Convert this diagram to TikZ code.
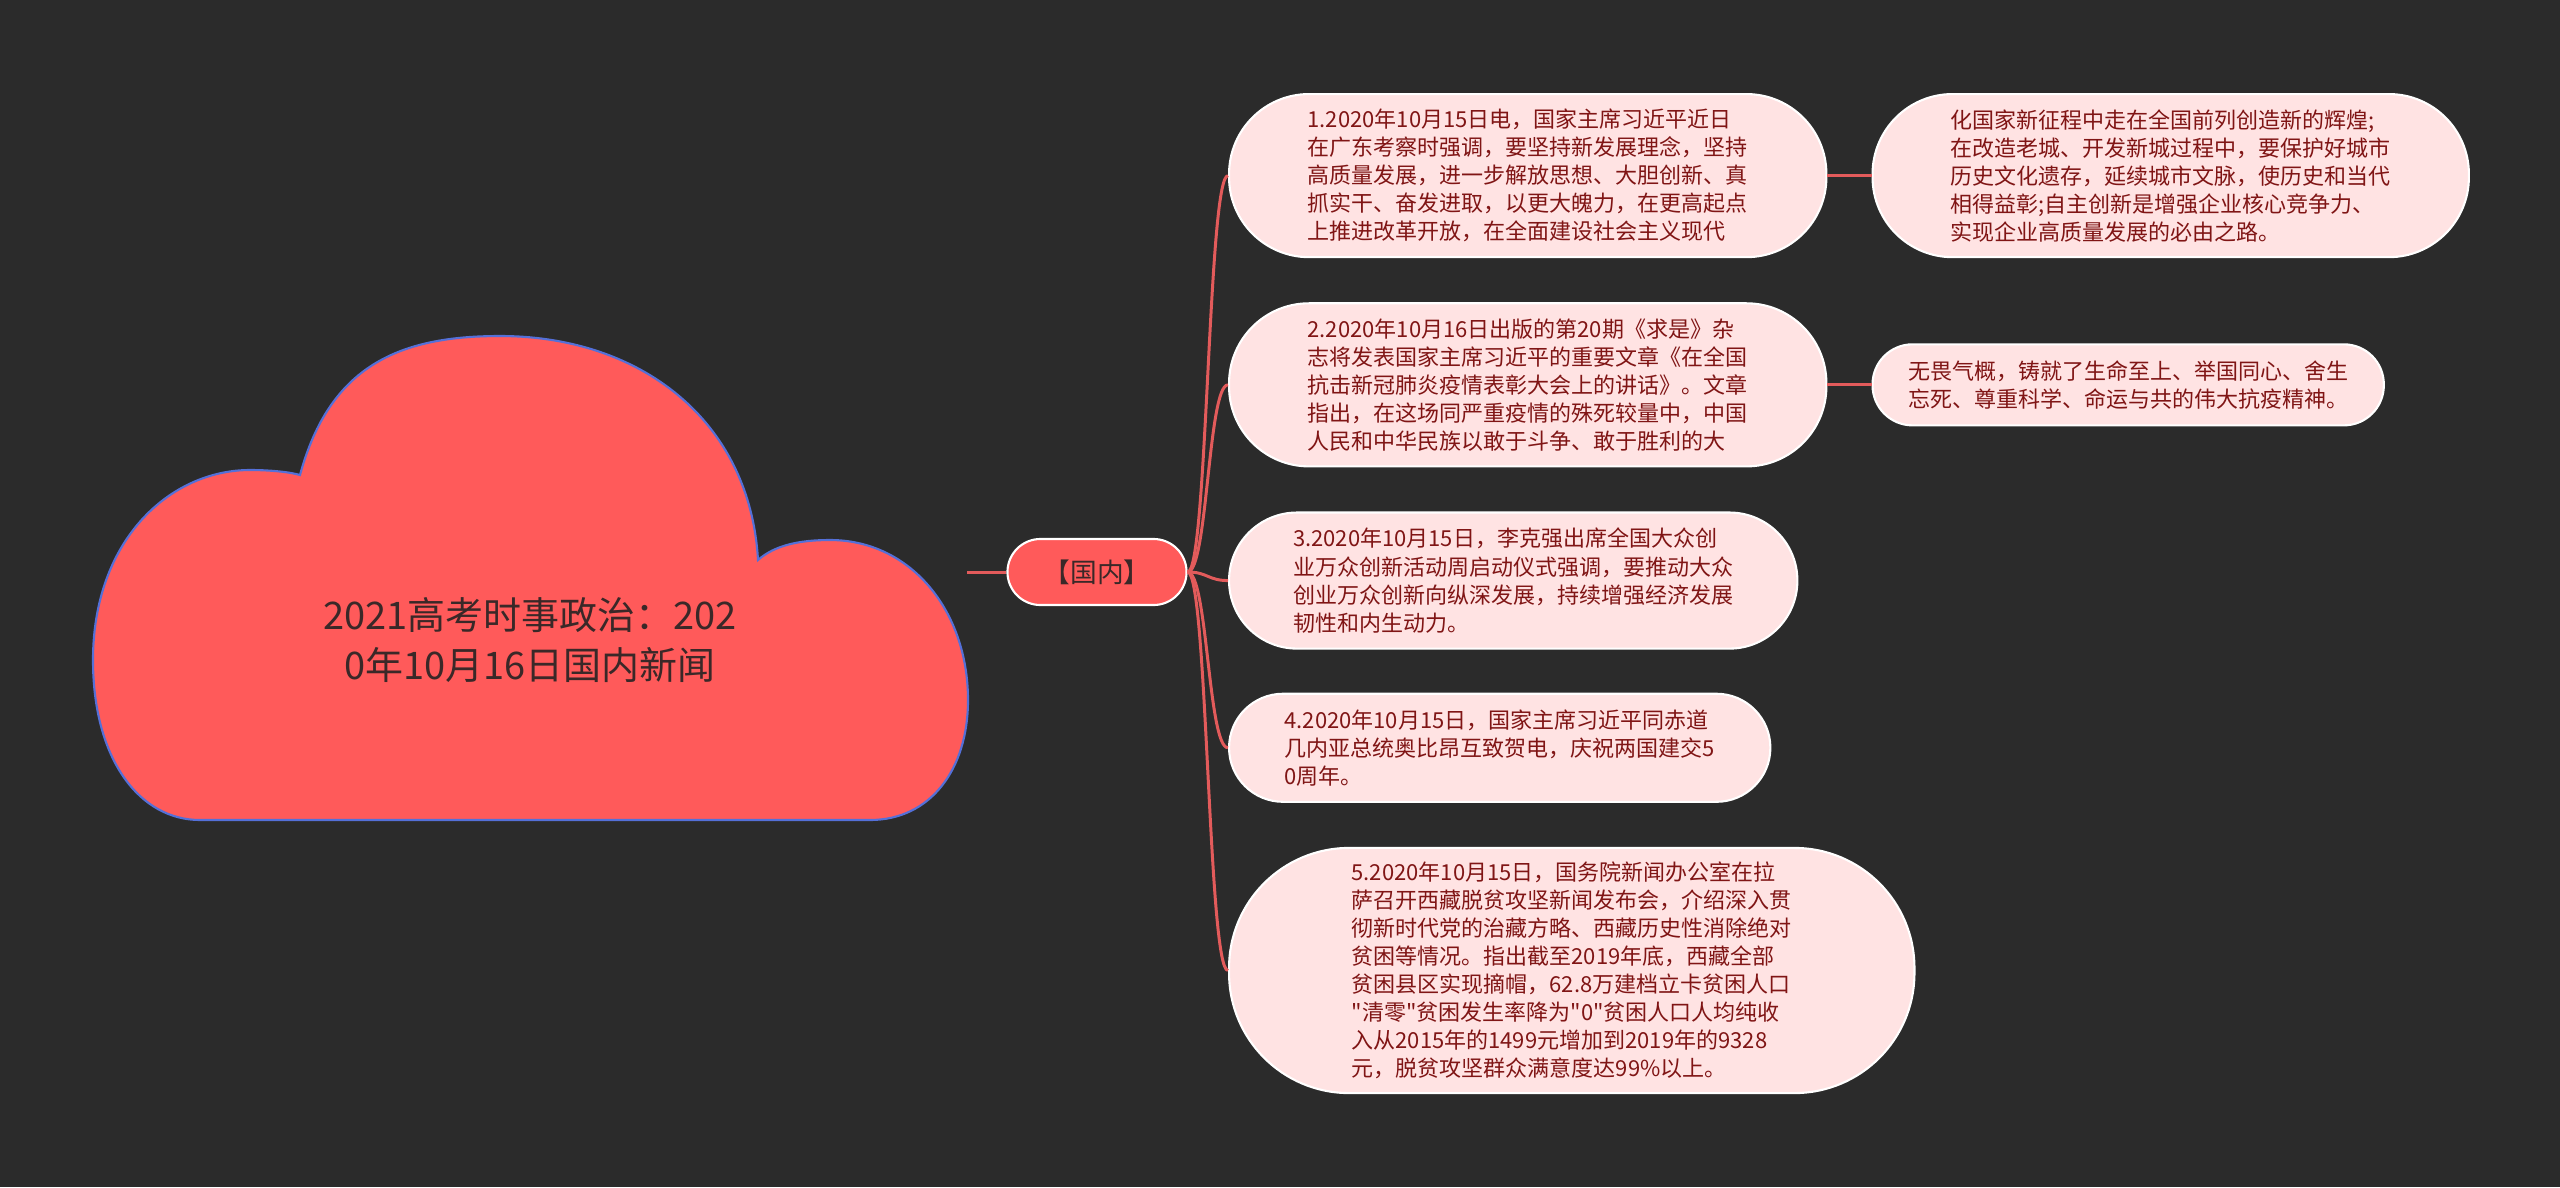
\documentclass[tikz,border=0pt]{standalone}
\usepackage{fontspec}
\usepackage{tikz}
\usetikzlibrary{positioning}
\newfontfamily\cjk{Noto Sans CJK SC}
\definecolor{MapBg}{HTML}{2B2B2B}
\definecolor{MapRed}{HTML}{FF5A5A}
\definecolor{MapBlue}{HTML}{5470D8}
\definecolor{MapLine}{HTML}{E35B5B}
\definecolor{LeafPink}{HTML}{FFE3E3}
\definecolor{LeafText}{HTML}{801515}
\definecolor{TitleText}{HTML}{3A2828}

\begin{document}
\begin{tikzpicture}[x=0.01cm, y=-0.01cm,
    leaf/.style={draw=white, line width=0.6pt, fill=LeafPink, rounded corners=#1,
      text=LeafText, align=left, inner sep=0pt, font=\cjk\fontsize{6.26}{7.97}\selectfont},
    topic/.style={draw=white, line width=0.6pt, fill=MapRed, rounded corners=0.33cm,
      minimum width=1.79cm, minimum height=0.66cm, inner sep=0pt, text=TitleText,
      font=\cjk\fontsize{7.6}{9}\selectfont},
    branch/.style={draw=MapLine, line width=0.85pt},
    cloudshape/.style={draw=MapBlue, line width=0.6pt, fill=MapRed}
  ]
    \fill[MapBg] (0,0) rectangle (2560,1187);
    \useasboundingbox (0,0) rectangle (2560,1187);

    % central cloud
    \draw[cloudshape] (300,475)
      .. controls (330,365) and (400,336) .. (500,336)
      .. controls (640,336) and (750,420) .. (758,560)
      .. controls (775,545) and (800,540) .. (830,540)
      .. controls (910,540) and (968,610) .. (968,700)
      .. controls (968,770) and (930,820) .. (870,820)
      -- (200,820)
      .. controls (140,820) and (93,760) .. (93,660)
      .. controls (93,540) and (170,470) .. (250,470)
      .. controls (270,470) and (290,472) .. (300,475) -- cycle;
    \node[align=center, text=TitleText, font=\cjk\fontsize{10.8}{14.4}\selectfont] (root) at (530,640)
      {2021高考时事政治：202\\0年10月16日国内新闻};
    \coordinate (rootR) at (967,572);

    \node[topic] (gn) at (1097,572) {【国内】};

    % news items
    \node[leaf=0.8cm, minimum width=5.97cm, minimum height=1.63cm, anchor=north west] (d1) at (1228,93)
      {1.2020年10月15日电，国家主席习近平近日\\
       在广东考察时强调，要坚持新发展理念，坚持\\
       高质量发展，进一步解放思想、大胆创新、真\\
       抓实干、奋发进取，以更大魄力，在更高起点\\
       上推进改革开放，在全面建设社会主义现代};
    \node[leaf=0.8cm, minimum width=5.97cm, minimum height=1.63cm, below=0.44cm of d1.south west, anchor=north west] (d2)
      {2.2020年10月16日出版的第20期《求是》杂\\
       志将发表国家主席习近平的重要文章《在全国\\
       抗击新冠肺炎疫情表彰大会上的讲话》。文章\\
       指出，在这场同严重疫情的殊死较量中，中国\\
       人民和中华民族以敢于斗争、敢于胜利的大};
    \node[leaf=0.68cm, minimum width=5.68cm, minimum height=1.36cm, below=0.44cm of d2.south west, anchor=north west] (d3)
      {3.2020年10月15日，李克强出席全国大众创\\
       业万众创新活动周启动仪式强调，要推动大众\\
       创业万众创新向纵深发展，持续增强经济发展\\
       韧性和内生动力。};
    \node[leaf=0.54cm, minimum width=5.41cm, minimum height=1.08cm, below=0.43cm of d3.south west, anchor=north west] (d4)
      {4.2020年10月15日，国家主席习近平同赤道\\
       几内亚总统奥比昂互致贺电，庆祝两国建交5\\
       0周年。};
    \node[leaf=1.2cm, minimum width=6.85cm, minimum height=2.45cm, below=0.44cm of d4.south west, anchor=north west] (d5)
      {5.2020年10月15日，国务院新闻办公室在拉\\
       萨召开西藏脱贫攻坚新闻发布会，介绍深入贯\\
       彻新时代党的治藏方略、西藏历史性消除绝对\\
       贫困等情况。指出截至2019年底，西藏全部\\
       贫困县区实现摘帽，62.8万建档立卡贫困人口\\
       "清零"贫困发生率降为"0"贫困人口人均纯收\\
       入从2015年的1499元增加到2019年的9328\\
       元，脱贫攻坚群众满意度达99\%以上。};

    % continuations
    \node[leaf=0.8cm, minimum width=5.96cm, minimum height=1.63cm, right=0.44cm of d1] (d1x)
      {化国家新征程中走在全国前列创造新的辉煌;\\
       在改造老城、开发新城过程中，要保护好城市\\
       历史文化遗存，延续城市文脉，使历史和当代\\
       相得益彰;自主创新是增强企业核心竞争力、\\
       实现企业高质量发展的必由之路。};
    \node[leaf=0.4cm, minimum width=5.11cm, minimum height=0.81cm, right=0.44cm of d2] (d2x)
      {无畏气概，铸就了生命至上、举国同心、舍生\\
       忘死、尊重科学、命运与共的伟大抗疫精神。};

    \draw[branch] (rootR) -- (gn.west);
    \foreach \d in {d1,d2,d3,d4,d5}
      \draw[branch] (gn.east) .. controls +(20,0) and +(-20,0) .. (\d.west);
    \draw[branch] (d1.east) -- (d1x.west);
    \draw[branch] (d2.east) -- (d2x.west);
  \end{tikzpicture}
\end{document}
